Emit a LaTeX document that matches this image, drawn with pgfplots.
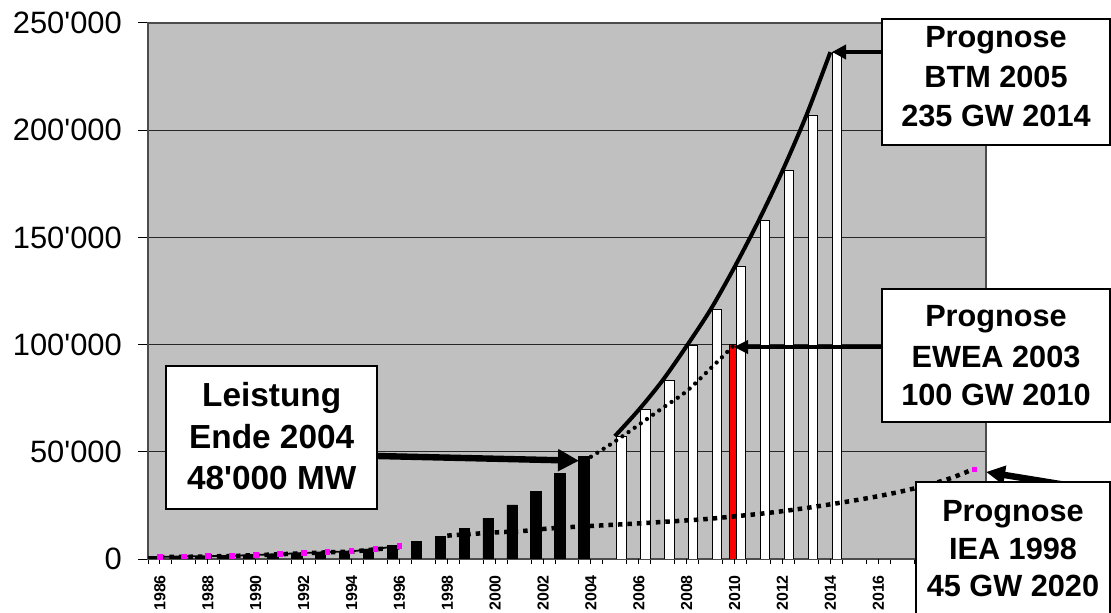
\documentclass[border=0pt]{standalone}
\usepackage{fontspec}
\setmainfont{Liberation Sans}[Ligatures=TeXOff]
\usepackage{pgfplots}
\pgfplotsset{compat=1.18}
\usetikzlibrary{arrows.meta}
\definecolor{plotgray}{RGB}{192,192,192}
\definecolor{mag}{RGB}{255,0,255}
\newcommand{\bfont}{\fontsize{30.8}{36}\selectfont\bfseries}
\newcommand{\lfont}{\fontsize{33.5}{40}\selectfont\bfseries}
\begin{document}
\begin{tikzpicture}
\path[use as bounding box] (0bp,0bp) rectangle (1111bp,613bp);
\clip (0bp,0bp) rectangle (1111bp,613bp);
\begin{axis}[
  at={(148bp,54bp)}, anchor=south west,
  scale only axis, width=838bp, height=536bp,
  xmin=-0.5, xmax=34.5, ymin=0, ymax=250000,
  scaled y ticks=false,
  axis background/.style={fill=plotgray},
  axis line style={draw=black!70, line width=1.2bp},
  tick pos=left, tick align=outside,
  major tick length=10bp,
  every tick/.style={black, line width=1bp},
  xtick={-0.5,0.5,...,34.5}, xticklabels={},
  xtick style={/pgfplots/major tick length=5bp},
  extra x ticks={0,2,...,30},
  extra x tick labels={1986,1988,1990,1992,1994,1996,1998,2000,2002,2004,2006,2008,2010,2012,2014,2016},
  extra x tick style={grid=none, major tick length=0pt,
     xticklabel style={rotate=90, anchor=east, inner sep=0pt, font=\fontsize{16}{17}\selectfont\bfseries}},
  xticklabel shift=16bp,
  ytick={0,50000,100000,150000,200000,250000},
  yticklabels={0,50'000,100'000,150'000,200'000,250'000},
  yticklabel style={anchor=east, inner sep=0pt, font=\fontsize{31}{36}\selectfont},
  yticklabel shift=16bp,
  ymajorgrids=true,
  major grid style={black!85, line width=1bp},
  unbounded coords=jump,
]
% actual installed capacity (black bars)
\addplot[ybar, bar width=0.44, bar shift=-0.29, fill=black, draw=black, line width=0.8bp] coordinates {
(0,1000)(1,1200)(2,1300)(3,1500)(4,1900)(5,2300)(6,2800)(7,3200)(8,3600)(9,4700)
(10,6300)(11,8100)(12,10600)(13,14300)(14,19000)(15,25200)(16,31500)(17,39800)(18,47700)};
% EWEA 2010 (red bar)
\addplot[ybar, bar width=0.3, bar shift=-0.08, fill=red, draw=black, line width=0.8bp] coordinates {(24,100000)};
% BTM forecast (white bars)
\addplot[ybar, bar width=0.4, bar shift=0.27, fill=white, draw=black, line width=1bp] coordinates {
(19,57300)(20,69600)(21,83400)(22,99400)(23,116400)(24,136200)(25,157700)(26,181100)(27,207000)(28,236400)};
% IEA 1998 forecast (dotted squares)
\addplot[black, line width=4.5bp, dash pattern=on 4.5bp off 5bp, smooth] coordinates {
(0,900)(1,1000)(2,1200)(3,1400)(4,1800)(5,2200)(6,2700)(7,3100)(8,3500)(9,4500)(10,5500)(11,nan)
(12,10900)(13,11650)(14,12400)(15,12900)(16,14000)(17,14800)(18,15400)(19,16000)(20,16600)
(21,17300)(22,18000)(23,18800)(24,19900)(25,21000)(26,22300)(27,23800)(28,25500)(29,27300)
(30,29300)(31,31600)(32,34300)(33,37600)(34,42000)};
% actual line with magenta markers
\addplot[black, line width=1.8bp, mark=square*, mark size=2bp, mark options={fill=mag, draw=mag, solid}] coordinates {
(0,1000)(1,1200)(2,1300)(3,1500)(4,1900)(5,2300)(6,2800)(7,3200)(8,3600)(9,4700)(10,6100)};
\addplot[only marks, mark=square*, mark size=2bp, mark options={fill=mag, draw=mag}] coordinates {(34,42000)};
% EWEA 2003 forecast (round dots)
\addplot[black, line width=4.3bp, line cap=round, dash pattern=on 0bp off 7.5bp, smooth] coordinates {
(18,47700)(19,54800)(20,62600)(21,70500)(22,78300)(23,88900)(24,100000)};
% BTM 2005 forecast (solid)
\addplot[black, line width=4bp, smooth] coordinates {
(19,57300)(20,69600)(21,83400)(22,99400)(23,116400)(24,136200)(25,157700)(26,181100)(27,207000)(28,236400)};
\end{axis}
% arrows
\draw[line width=4bp, -{Triangle[length=14bp,width=14bp]}] (882bp,561bp) -- (832bp,561bp);
\draw[line width=4bp, -{Triangle[length=14bp,width=13bp]}] (882bp,266bp) -- (734bp,266bp);
\draw[line width=6.4bp, -{Triangle[length=21bp,width=21bp]}] (377bp,157bp) -- (579bp,152.3bp);
\draw[line width=6.5bp, -{Triangle[length=19bp,width=18bp]}] (1072bp,127bp) -- (986bp,141bp);
% boxes
\draw[line width=1.5bp, fill=white] (882bp,468bp) rectangle (1110bp,594bp);
\node[anchor=base, font=\bfont, inner sep=0pt] at (996bp,565.6bp) {Prognose};
\node[anchor=base, font=\bfont, inner sep=0pt] at (996bp,525bp) {BTM 2005};
\node[anchor=base, font=\bfont, inner sep=0pt] at (996bp,486bp) {235 GW 2014};
\draw[line width=1.5bp, fill=white] (882bp,191bp) rectangle (1110bp,324bp);
\node[anchor=base, font=\bfont, inner sep=0pt] at (996bp,286bp) {Prognose};
\node[anchor=base, font=\bfont, inner sep=0pt] at (996bp,245.7bp) {EWEA 2003};
\node[anchor=base, font=\bfont, inner sep=0pt] at (996bp,207bp) {100 GW 2010};
\draw[line width=1.5bp, fill=white] (166bp,104bp) rectangle (377bp,247bp);
\node[anchor=base, font=\lfont, inner sep=0pt] at (271.7bp,206.3bp) {Leistung};
\node[anchor=base, font=\lfont, inner sep=0pt] at (271.7bp,164.7bp) {Ende 2004};
\node[anchor=base, font=\lfont, inner sep=0pt] at (271.7bp,123bp) {48'000 MW};
\draw[line width=1.5bp, fill=white] (916bp,-20bp) rectangle (1110bp,131bp);
\node[anchor=base, font=\bfont, inner sep=0pt] at (1013bp,91.3bp) {Prognose};
\node[anchor=base, font=\bfont, inner sep=0pt] at (1013bp,53.7bp) {IEA 1998};
\node[anchor=base, font=\bfont, inner sep=0pt] at (1013bp,16.3bp) {45 GW 2020};
\end{tikzpicture}
\end{document}
